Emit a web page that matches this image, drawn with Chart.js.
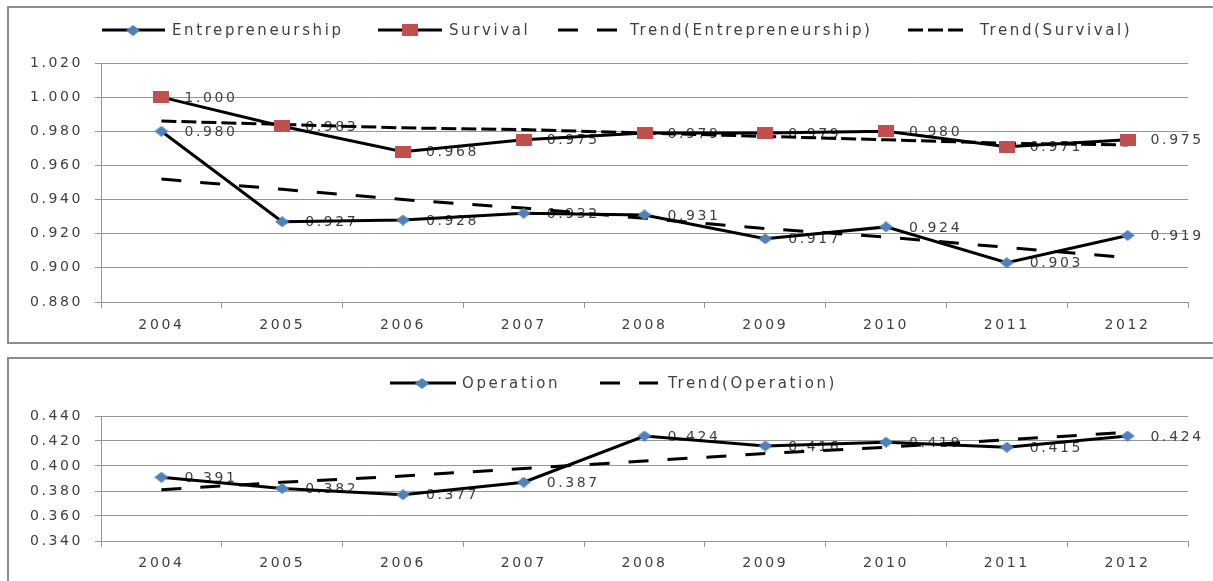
<!DOCTYPE html>
<html><head><meta charset="utf-8">
<script src="https://cdn.jsdelivr.net/npm/chart.js@4/dist/chart.umd.min.js"></script>
<style>
html,body{margin:0;padding:0;background:#fff;overflow:hidden;}
#wrap{position:relative;width:1213px;height:581px;overflow:hidden;}
canvas{position:absolute;left:0;}
#c1{top:0;}
#c2{top:350px;}
.frame{position:absolute;border:2px solid #8d8d8d;box-sizing:border-box;pointer-events:none;}
</style></head><body>
<div id="wrap">
<canvas id="c1" width="1213" height="350"></canvas>
<canvas id="c2" width="1213" height="231"></canvas>
<div class="frame" style="left:7px;top:6px;width:1240px;height:338px"></div>
<div class="frame" style="left:7px;top:357px;width:1240px;height:260px"></div>
</div>
<script>
// ---- data ----
const years = ['2004','2005','2006','2007','2008','2009','2010','2011','2012'];
const entrepreneurship = [0.980, 0.927, 0.928, 0.932, 0.931, 0.917, 0.924, 0.903, 0.919];
const survival = [1.000, 0.983, 0.968, 0.975, 0.979, 0.979, 0.980, 0.971, 0.975];
const trendEntrepreneurship = [0.952, 0.946, 0.940, 0.935, 0.929, 0.923, 0.918, 0.912, 0.906];
const trendSurvival = [0.986, 0.984, 0.982, 0.981, 0.979, 0.977, 0.975, 0.973, 0.972];
const operation = [0.391, 0.382, 0.377, 0.387, 0.424, 0.416, 0.419, 0.415, 0.424];
const trendOperation = [0.381, 0.387, 0.392, 0.398, 0.404, 0.410, 0.415, 0.421, 0.427];
const topAxis = {min: 0.88, max: 1.02, step: 0.02};
const bottomAxis = {min: 0.34, max: 0.44, step: 0.02};

// ---- styles ----
const FONT = '"DejaVu Sans", sans-serif';
const SPACING = '2.6px';
const TEXT = '#404040';
const GRID = '#969696';
const BLUE = '#4F81BD';
const RED = '#C0504D';

function makeMarker(kind) {
  const c = document.createElement('canvas');
  const x = c.getContext('2d');
  if (kind === 'diamond') {
    c.width = 14; c.height = 11;
    x.fillStyle = BLUE;
    x.beginPath(); x.moveTo(7, 0); x.lineTo(14, 5.5); x.lineTo(7, 11); x.lineTo(0, 5.5); x.closePath(); x.fill();
  } else {
    c.width = 16; c.height = 12;
    x.fillStyle = RED; x.fillRect(0, 0, 16, 12);
  }
  return c;
}
const diamond = makeMarker('diamond');
const square = makeMarker('square');

const spacingPlugin = { id: 'spacing', beforeDraw(chart) { chart.ctx.letterSpacing = SPACING; } };

const labelPlugin = {
  id: 'vlabels',
  beforeDatasetsDraw(chart) {
    const ctx = chart.ctx;
    ctx.save();
    ctx.font = '14px ' + FONT;
    ctx.letterSpacing = SPACING;
    ctx.fillStyle = TEXT;
    ctx.textAlign = 'left';
    ctx.textBaseline = 'middle';
    chart.data.datasets.forEach((ds, i) => {
      if (!ds.showLabels) return;
      chart.getDatasetMeta(i).data.forEach((pt, j) => {
        ctx.fillText(ds.data[j].toFixed(3), pt.x + 23, pt.y + 1);
      });
    });
    ctx.restore();
  }
};

const legendPlugin = {
  id: 'customLegend',
  afterDraw(chart, args, opts) {
    const ctx = chart.ctx;
    const y = opts.y;
    ctx.save();
    ctx.font = '15px ' + FONT;
    ctx.letterSpacing = SPACING;
    ctx.fillStyle = TEXT;
    ctx.textAlign = 'left';
    ctx.textBaseline = 'middle';
    opts.items.forEach(it => {
      const ds = chart.data.datasets[it.ds];
      ctx.beginPath();
      ctx.setLineDash(ds.borderDash || []);
      ctx.lineWidth = 3;
      ctx.strokeStyle = '#000';
      ctx.moveTo(it.x0, y); ctx.lineTo(it.x1, y); ctx.stroke();
      ctx.setLineDash([]);
      if (ds.pointStyle && typeof ds.pointStyle === 'object') {
        const m = ds.pointStyle;
        ctx.drawImage(m, Math.round(it.mx - m.width / 2), Math.round(y - m.height / 2));
      }
      ctx.fillText(ds.label, it.tx, y + 1);
    });
    ctx.restore();
  }
};

function scales(ax, xPad) {
  return {
    x: {
      type: 'category', offset: true,
      grid: { display: true, drawOnChartArea: false, drawTicks: true, tickLength: 6, color: GRID, offset: true },
      border: { display: true, color: GRID, width: 1 },
      ticks: { color: TEXT, font: { family: FONT, size: 14 }, padding: xPad, maxRotation: 0, autoSkip: false },
      afterFit(s) { s.height = 40; }
    },
    y: {
      min: ax.min, max: ax.max,
      grid: { color: GRID, tickLength: 6, drawTicks: true, lineWidth: 1 },
      border: { display: true, color: GRID, width: 1 },
      ticks: { stepSize: ax.step, color: TEXT, font: { family: FONT, size: 14 }, padding: 12,
               callback: v => v.toFixed(3) },
      afterFit(s) { s.width = 101; }
    }
  };
}

function solid(label, data, marker) {
  return { label, data, borderColor: '#000', borderWidth: 3, tension: 0, fill: false,
           pointStyle: marker, pointRadius: 6, pointHoverRadius: 6, showLabels: true };
}
function dashed(label, data, dash) {
  return { label, data, borderColor: '#000', borderWidth: 3, tension: 0, fill: false,
           borderDash: dash, pointRadius: 0, pointHoverRadius: 0, showLabels: false };
}

const common = {
  responsive: false, animation: false, devicePixelRatio: 1, events: [],
  plugins: { legend: { display: false }, tooltip: { enabled: false } }
};

new Chart(document.getElementById('c1'), {
  type: 'line',
  data: {
    labels: years,
    datasets: [
      solid('Entrepreneurship', entrepreneurship, diamond),
      solid('Survival', survival, square),
      dashed('Trend(Entrepreneurship)', trendEntrepreneurship, [20, 19]),
      dashed('Trend(Survival)', trendSurvival, [15, 5])
    ]
  },
  options: Object.assign({}, common, {
    layout: { padding: { left: 0, right: 25, top: 63, bottom: 8 } },
    scales: scales(topAxis, 9),
    plugins: Object.assign({}, common.plugins, {
      customLegend: { y: 30, items: [
        { ds: 0, x0: 102, x1: 165, mx: 133, tx: 172 },
        { ds: 1, x0: 378, x1: 442, mx: 410, tx: 449 },
        { ds: 2, x0: 558, x1: 618, tx: 630 },
        { ds: 3, x0: 908, x1: 968, tx: 980 }
      ] }
    })
  }),
  plugins: [spacingPlugin, labelPlugin, legendPlugin]
});

new Chart(document.getElementById('c2'), {
  type: 'line',
  data: {
    labels: years,
    datasets: [
      solid('Operation', operation, diamond),
      dashed('Trend(Operation)', trendOperation, [20, 19])
    ]
  },
  options: Object.assign({}, common, {
    layout: { padding: { left: 0, right: 25, top: 66, bottom: 0 } },
    scales: scales(bottomAxis, 8),
    plugins: Object.assign({}, common.plugins, {
      customLegend: { y: 33, items: [
        { ds: 0, x0: 390, x1: 456, mx: 422, tx: 462 },
        { ds: 1, x0: 600, x1: 658, tx: 668 }
      ] }
    })
  }),
  plugins: [spacingPlugin, labelPlugin, legendPlugin]
});
</script>
</body></html>
